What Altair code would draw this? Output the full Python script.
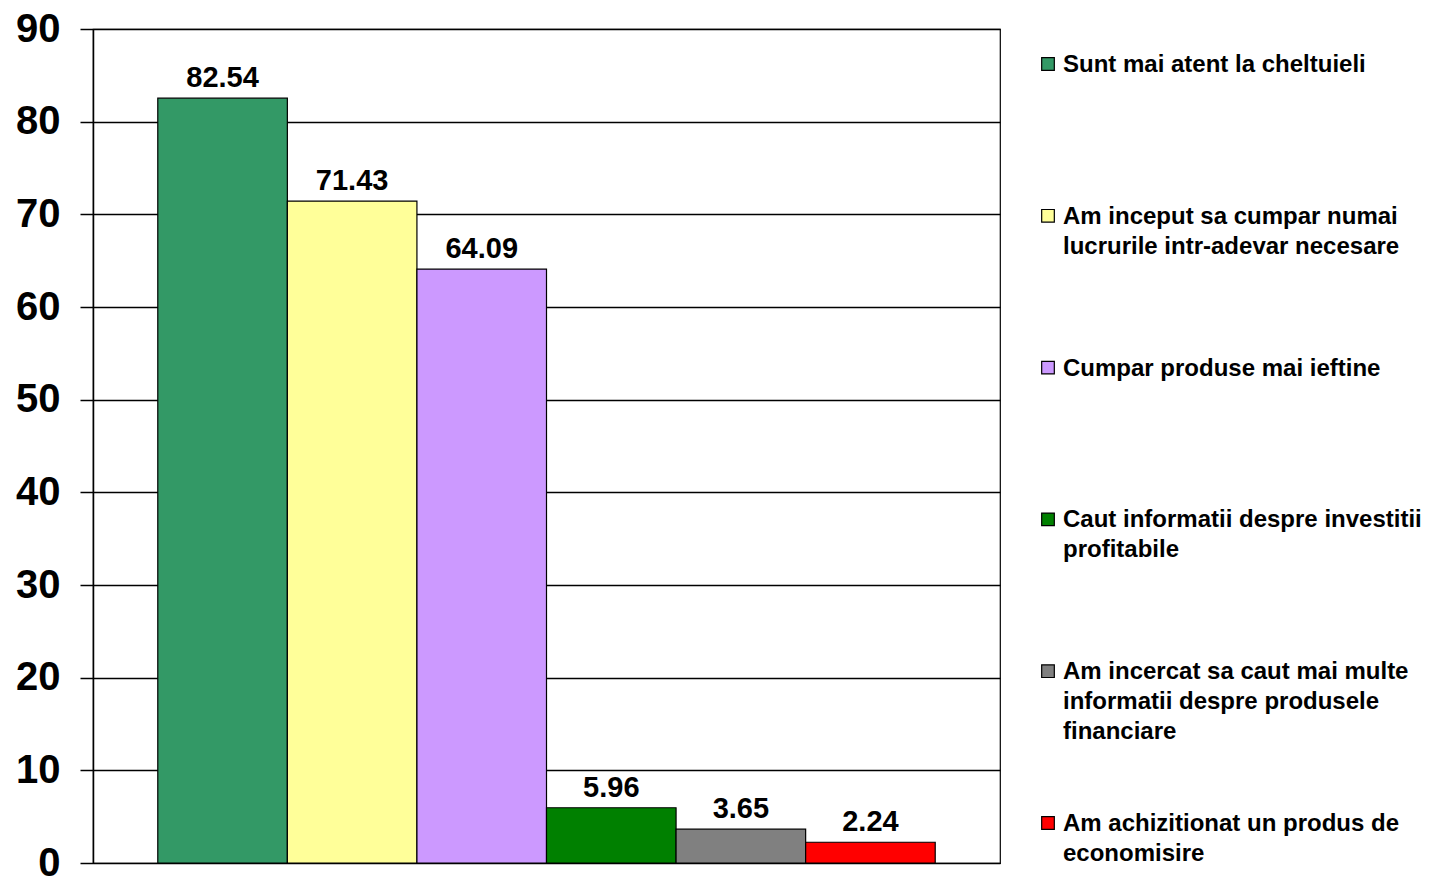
import altair as alt
import pandas as pd

categories = [
    "Sunt mai atent la cheltuieli",
    "Am inceput sa cumpar numai lucrurile intr-adevar necesare",
    "Cumpar produse mai ieftine",
    "Caut informatii despre investitii profitabile",
    "Am incercat sa caut mai multe informatii despre produsele financiare",
    "Am achizitionat un produs de economisire",
]
legend_labels = [
    "Sunt mai atent la cheltuieli",
    "Am inceput sa cumpar numai\nlucrurile intr-adevar necesare",
    "Cumpar produse mai ieftine",
    "Caut informatii despre investitii\nprofitabile",
    "Am incercat sa caut mai multe\ninformatii despre produsele\nfinanciare",
    "Am achizitionat un produs de\neconomisire",
]
values = [82.54, 71.43, 64.09, 5.96, 3.65, 2.24]
colors = ["#339966", "#FFFF99", "#CC99FF", "#008000", "#808080", "#FF0000"]
y_ticks = [0, 10, 20, 30, 40, 50, 60, 70, 80, 90]

df = pd.DataFrame({
    "cat": categories,
    "legend": legend_labels,
    "value": values,
    "label": [f"{v:.2f}" for v in values],
})

FONT = "Liberation Sans"
color_scale = alt.Scale(domain=categories, range=colors)

x_enc = alt.X("cat:N", sort=categories, axis=None,
              scale=alt.Scale(paddingInner=0, paddingOuter=0.5))
y_enc = alt.Y(
    "value:Q",
    scale=alt.Scale(domain=[0, 90], nice=False),
    axis=alt.Axis(
        values=y_ticks, title=None, grid=True, gridColor="#000000", gridWidth=1.5,
        domainColor="#000000", domainWidth=1.5, tickColor="#000000", tickWidth=1.5,
        tickSize=13, labelPadding=20, labelFont=FONT, labelFontSize=40,
        labelFontWeight="bold", labelColor="#000000",
    ),
)

bars = alt.Chart(df).mark_bar(stroke="#000000", strokeWidth=1.2).encode(
    x=x_enc, y=y_enc,
    color=alt.Color("cat:N", scale=color_scale, legend=None),
)
labels = alt.Chart(df).mark_text(
    font=FONT, fontSize=29, fontWeight="bold", color="#000000",
    baseline="alphabetic", dy=-11,
).encode(x=x_enc, y="value:Q", text="label:N")

main = alt.layer(bars, labels).properties(
    width=907, height=834,
    view=alt.ViewBackground(stroke="#000000", strokeWidth=1.2),
)

leg_y = alt.Y("cat:N", sort=categories, axis=None,
              scale=alt.Scale(type="point", padding=0.2306))
leg_sq = alt.Chart(df).mark_square(size=160, stroke="#000000", strokeWidth=1.2, opacity=1).encode(
    x=alt.value(6), y=leg_y,
    color=alt.Color("cat:N", scale=color_scale, legend=None),
)
leg_txt = alt.Chart(df).mark_text(
    font=FONT, fontSize=24, fontWeight="bold", color="#000000",
    align="left", baseline="alphabetic", dy=8, lineBreak="\n", lineHeight=30,
).encode(x=alt.value(21), y=leg_y, text="legend:N")
legend = alt.layer(leg_sq, leg_txt).properties(
    width=375, height=829,
    view=alt.ViewBackground(strokeWidth=0, stroke="transparent"),
)

chart = alt.hconcat(main, legend, spacing=38).properties(
    padding={"left": 6, "top": 0, "right": 0, "bottom": 0}
)

chart.save("out.html", embed_options={"renderer": "svg", "actions": False})
